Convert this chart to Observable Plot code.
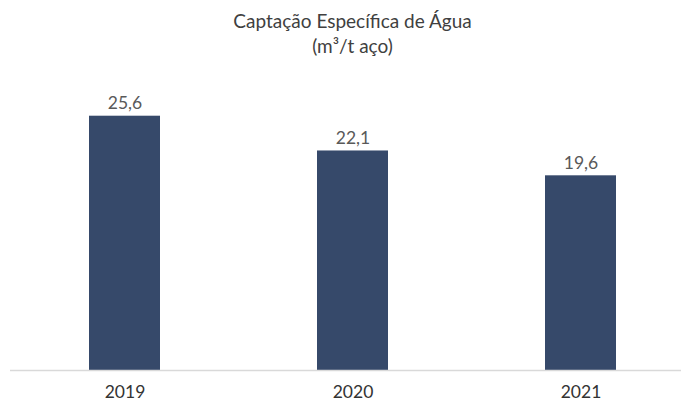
<!DOCTYPE html>
<html>
<head>
<meta charset="utf-8">
<script src="https://cdn.jsdelivr.net/npm/d3@7"></script>
<script src="https://cdn.jsdelivr.net/npm/@observablehq/plot@0.6"></script>
<style>
  html, body { margin: 0; padding: 0; background: #fff; }
  body { width: 681px; height: 403px; overflow: hidden; font-family: Lato, "Open Sans", sans-serif; }
  #title { position: absolute; left: 0; top: 0; width: 705px; text-align: center; color: #404040; font-size: 19px; line-height: 25px; padding-top: 8px; }
  #chart { position: absolute; left: 0; top: 70px; }
</style>
</head>
<body>
<div id="title">Captação Específica de Água<br>(m³/t aço)</div>
<div id="chart"></div>
<script>
const years = ["2019", "2020", "2021"];
const values = [25.6, 22.1, 19.6];
const labels = ["25,6", "22,1", "19,6"];

const data = years.map((y, i) => ({year: y, value: values[i], label: labels[i]}));

const plot = Plot.plot({
  width: 681,
  height: 333,
  marginLeft: 10,
  marginRight: 0,
  marginTop: 2,
  marginBottom: 33,
  style: {fontFamily: "Lato, 'Open Sans', sans-serif", background: "#fff"},
  x: {domain: years, paddingInner: 0.689, paddingOuter: 0.3128, align: 0.546, label: null},
  y: {domain: [0, 30], axis: null},
  marks: [
    Plot.barY(data, {x: "year", y: "value", fill: "#36496a"}),
    Plot.ruleY([0], {stroke: "#d9d9d9", strokeWidth: 1.5}),
    Plot.text(data, {x: "year", y: "value", text: "label", lineAnchor: "bottom", dy: -7, fontSize: 17.5, fill: "#595959"}),
    Plot.axisX({tickSize: 0, tickPadding: 15, fontSize: 17.5, color: "#333333", label: null})
  ]
});
document.getElementById("chart").appendChild(plot);
</script>
</body>
</html>
